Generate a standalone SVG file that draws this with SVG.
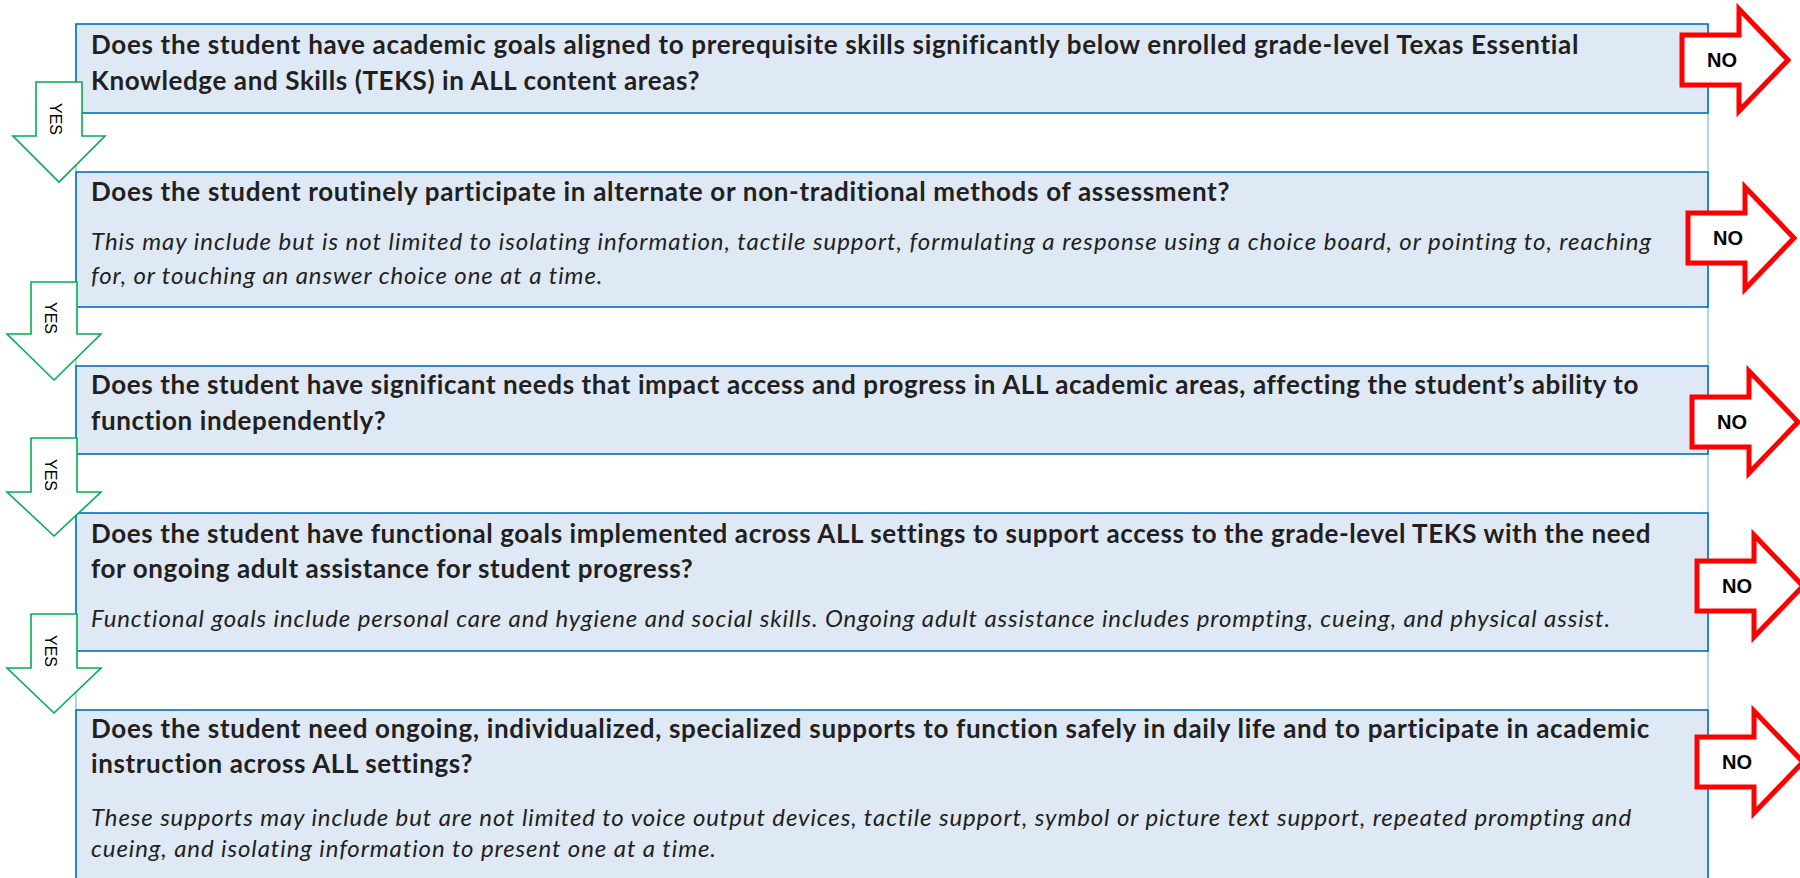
<svg xmlns="http://www.w3.org/2000/svg" width="1800" height="878" viewBox="0 0 1800 878">
<style>
.box{fill:#dee9f5;stroke:#0070c0;stroke-width:1.6}
.guide{stroke:#9dc3e6;stroke-width:1.5}
.q{font-family:Lato,"Liberation Sans",sans-serif;font-weight:bold;font-size:26px;letter-spacing:0.6px;fill:#231f20}
.n{font-family:Lato,"Liberation Sans",sans-serif;font-style:italic;font-size:24px;letter-spacing:0.9px;fill:#231f20}
.yes{fill:#fff;stroke:#00b050;stroke-width:1.6}
.no{fill:#fff;stroke:#ff0000;stroke-width:5}
.yt{font-family:"Liberation Sans",Arial,sans-serif;font-size:16px;fill:#000;text-anchor:middle}
.nt{font-family:"Liberation Sans",Arial,sans-serif;font-weight:bold;font-size:20px;fill:#000;text-anchor:middle}
</style>
<rect width="1800" height="878" fill="#fff"/>
<g id="guides">
<line class="guide" x1="76" y1="24" x2="76" y2="878"/>
<line class="guide" x1="1708" y1="24" x2="1708" y2="878"/>
</g>
<g id="node1">
<rect class="box" x="76" y="24" width="1632" height="89"/>
<text class="q" x="91" y="54" textLength="1488">Does the student have academic goals aligned to prerequisite skills significantly below enrolled grade-level Texas Essential</text>
<text class="q" x="91" y="90">Knowledge and Skills (TEKS) in ALL content areas?</text>
</g>
<g id="node2">
<rect class="box" x="76" y="172" width="1632" height="135"/>
<text class="q" x="91" y="201" textLength="1139">Does the student routinely participate in alternate or non-traditional methods of assessment?</text>
<text class="n" x="91" y="250" textLength="1561">This may include but is not limited to isolating information, tactile support, formulating a response using a choice board, or pointing to, reaching</text>
<text class="n" x="91" y="284">for, or touching an answer choice one at a time.</text>
</g>
<g id="node3">
<rect class="box" x="76" y="366" width="1632" height="88"/>
<text class="q" x="91" y="394" textLength="1548">Does the student have significant needs that impact access and progress in ALL academic areas, affecting the student’s ability to</text>
<text class="q" x="91" y="430">function independently?</text>
</g>
<g id="node4">
<rect class="box" x="76" y="513" width="1632" height="138"/>
<text class="q" x="91" y="543" textLength="1560">Does the student have functional goals implemented across ALL settings to support access to the grade-level TEKS with the need</text>
<text class="q" x="91" y="578">for ongoing adult assistance for student progress?</text>
<text class="n" x="91" y="627" textLength="1520">Functional goals include personal care and hygiene and social skills. Ongoing adult assistance includes prompting, cueing, and physical assist.</text>
</g>
<g id="node5">
<rect class="box" x="76" y="710" width="1632" height="190"/>
<text class="q" x="91" y="738" textLength="1559">Does the student need ongoing, individualized, specialized supports to function safely in daily life and to participate in academic</text>
<text class="q" x="91" y="773">instruction across ALL settings?</text>
<text class="n" x="91" y="826" textLength="1541">These supports may include but are not limited to voice output devices, tactile support, symbol or picture text support, repeated prompting and</text>
<text class="n" x="91" y="857">cueing, and isolating information to present one at a time.</text>
</g>
<g id="connectors">
<g id="yes1"><polygon class="yes" points="36,82 82,82 82,136 105,136 59,182 13,136 36,136"/><text class="yt" transform="translate(56,119) rotate(90)" y="6">YES</text></g>
<g id="yes2"><polygon class="yes" points="31,282 77,282 77,334 101,334 54,380 7,334 31,334"/><text class="yt" transform="translate(51,318) rotate(90)" y="6">YES</text></g>
<g id="yes3"><polygon class="yes" points="31,438 77,438 77,492 101,492 54,536 7,492 31,492"/><text class="yt" transform="translate(51,475) rotate(90)" y="6">YES</text></g>
<g id="yes4"><polygon class="yes" points="31,614 77,614 77,668 101,668 54,713 7,668 31,668"/><text class="yt" transform="translate(51,651) rotate(90)" y="6">YES</text></g>
<g id="no1"><polygon class="no" points="1682,35 1739,35 1739,9 1788,60 1739,111 1739,85 1682,85"/><text class="nt" x="1722" y="67">NO</text></g>
<g id="no2"><polygon class="no" points="1688,213 1745,213 1745,187 1794,238 1745,289 1745,263 1688,263"/><text class="nt" x="1728" y="245">NO</text></g>
<g id="no3"><polygon class="no" points="1692,397 1749,397 1749,371 1798,422 1749,473 1749,447 1692,447"/><text class="nt" x="1732" y="429">NO</text></g>
<g id="no4"><polygon class="no" points="1697,561 1754,561 1754,535 1803,586 1754,637 1754,611 1697,611"/><text class="nt" x="1737" y="593">NO</text></g>
<g id="no5"><polygon class="no" points="1697,737 1754,737 1754,711 1803,762 1754,813 1754,787 1697,787"/><text class="nt" x="1737" y="769">NO</text></g>
</g>
</svg>
